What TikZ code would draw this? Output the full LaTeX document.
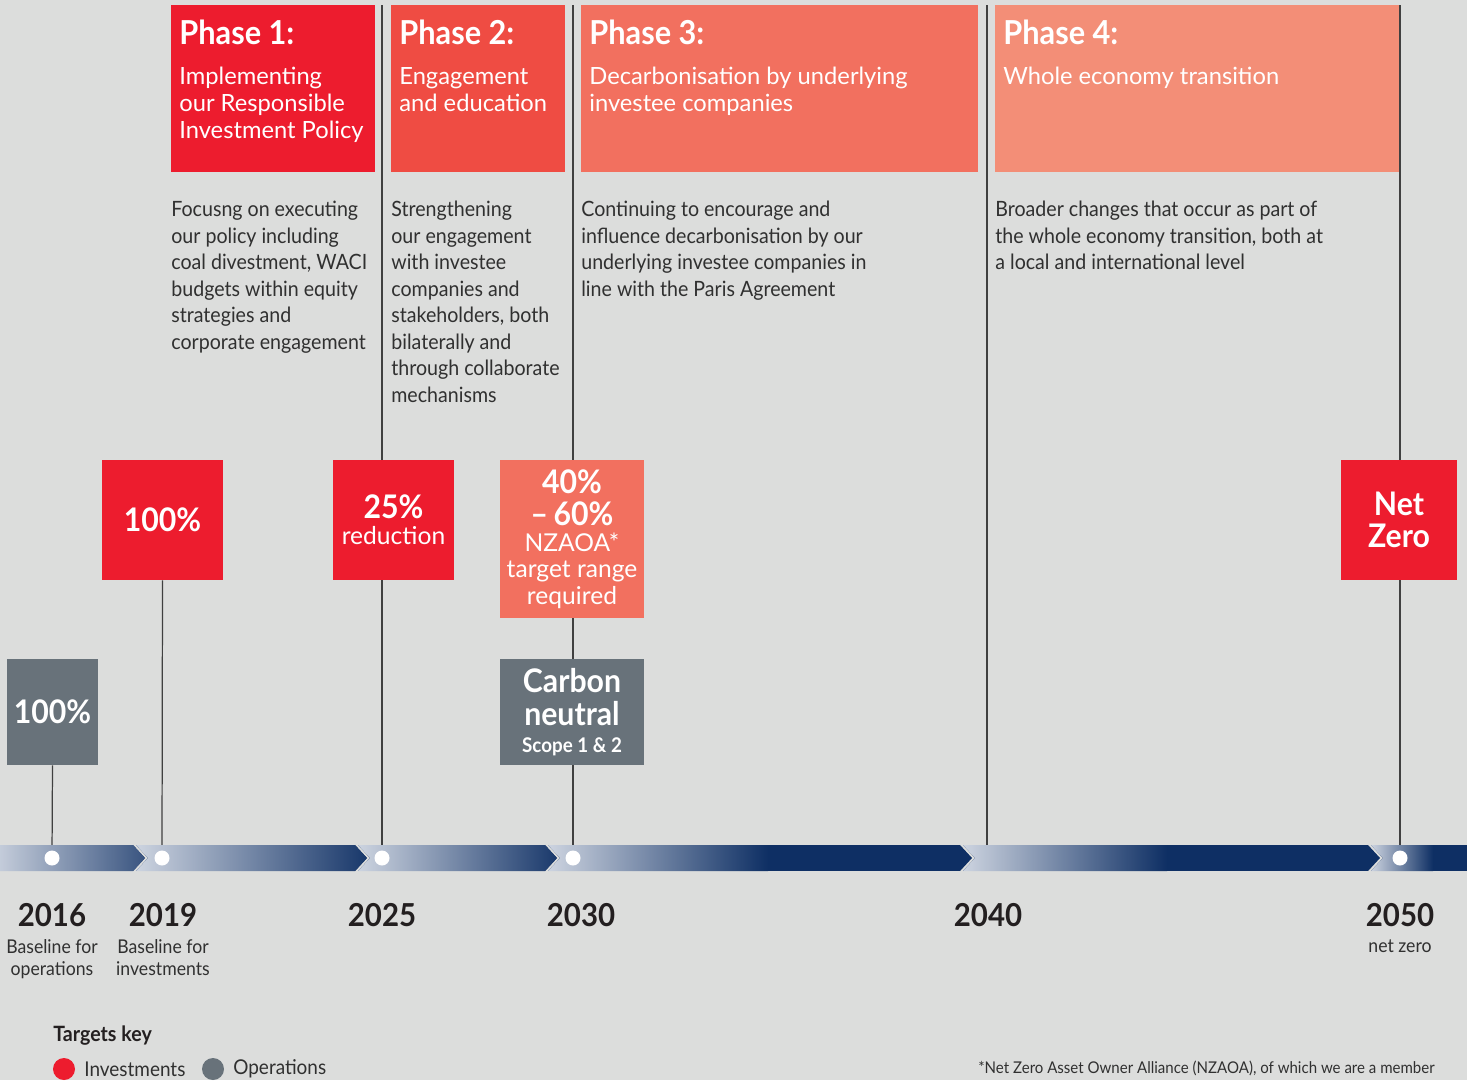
\documentclass[tikz,border=0pt]{standalone}
\usepackage{fontspec}
\setmainfont{Lato}
\newfontfamily\nfont{Lato}[FakeStretch=0.93]
\definecolor{bgc}{HTML}{DCDDDC}
\definecolor{redc}{HTML}{ED1C2E}
\definecolor{ptwo}{HTML}{EF4C43}
\definecolor{pthree}{HTML}{F2705F}
\definecolor{pfour}{HTML}{F38E77}
\definecolor{greyc}{HTML}{68727A}
\definecolor{navyc}{HTML}{0E2F64}
\definecolor{barlight}{HTML}{CDD4E0}
\definecolor{txtc}{HTML}{303030}
\definecolor{yearc}{HTML}{231F20}
\definecolor{linec}{HTML}{404040}
\pgfdeclarelayer{back}
\pgfdeclarelayer{lines}
\pgfsetlayers{back,lines,main}
\newcommand\chevseg[4]{%
  \begin{scope}
    \clip (#1,845) -- (#2,845) -- (#2+12,858) -- (#2,871) -- (#1,871) -- (#1+12,858) -- cycle;
    \fill[navyc] (#1,845) rectangle (#2+12,871);
    \shade[left color=barlight,right color=navyc] (#3,845) rectangle (#4,871);
  \end{scope}}
\tikzset{
  phasebox/.style={anchor=north west, inner sep=0, minimum height=167*0.02cm},
  phtitle/.style={font=\nfont\fontsize{18.8}{22}\selectfont\bfseries, text=white, inner sep=0, anchor=base west},
  phsub/.style={font=\fontsize{13.5}{15.3}\selectfont, text=white, inner sep=0, anchor=north west, align=left},
  bodytxt/.style={font=\nfont\fontsize{12}{15.08}\selectfont, text=txtc, inner sep=0, anchor=north west, align=left},
  tbox/.style={inner sep=0, text=white, align=center},
  yearlbl/.style={font=\nfont\fontsize{18}{20}\selectfont\bfseries, text=yearc, inner sep=0, anchor=base},
  sublbl/.style={font=\nfont\fontsize{10.8}{12.5}\selectfont, text=txtc, inner sep=0, anchor=north, align=center},
  dotnode/.style={circle, fill=white, inner sep=0, minimum size=15*0.02cm},
  vline/.style={draw=linec, line width=0.7pt},
  keydot/.style={circle, inner sep=0, minimum size=22*0.02cm},
}
\begin{document}
\begin{tikzpicture}[x=0.02cm,y=-0.02cm]
\begin{pgfonlayer}{back}
\fill[bgc] (0,0) rectangle (1467,1080);
\end{pgfonlayer}
\useasboundingbox (0,0) rectangle (1467,1080);

% timeline bar
\chevseg{-20}{133}{-10}{190}
\chevseg{136}{355}{136}{380}
\chevseg{358}{545}{358}{570}
\chevseg{548}{960}{548}{768}
\chevseg{963}{1368}{963}{1167}
\chevseg{1371}{1480}{1371}{1433}

\node[dotnode] (d2016) at (52,858) {};
\node[dotnode] (d2019) at (162,858) {};
\node[dotnode] (d2025) at (382,858) {};
\node[dotnode] (d2030) at (573,858) {};
\coordinate (b2040) at (987,858);
\node[dotnode] (d2050) at (1400,858) {};

\coordinate (top2025) at (382,5);
\coordinate (top2030) at (573,5);
\coordinate (top2040) at (987,5);
\coordinate (top2050) at (1400,5);

% phase headers
\node[phasebox, fill=redc, minimum width=204*0.02cm] (ph1) at (171,5) {};
\node[phasebox, fill=ptwo, minimum width=174*0.02cm] (ph2) at (391,5) {};
\node[phasebox, fill=pthree, minimum width=397*0.02cm] (ph3) at (581,5) {};
\node[phasebox, fill=pfour, minimum width=404*0.02cm] (ph4) at (995,5) {};

\node[phtitle] (ph1t) at (179,44) {Phase 1:};
\node[phtitle] (ph2t) at (399,44) {Phase 2:};
\node[phtitle] (ph3t) at (589,44) {Phase 3:};
\node[phtitle] (ph4t) at (1003,44) {Phase 4:};

\node[phsub] (ph1s) at (179,67) {Implementing\\our Responsible\\Investment Policy};
\node[phsub] (ph2s) at (399,67) {Engagement\\and education};
\node[phsub] (ph3s) at (589,67) {Decarbonisation by underlying\\investee companies};
\node[phsub] (ph4s) at (1003,67) {Whole economy transition};

% phase bodies
\node[bodytxt] (ph1b) at (171,201) {Focusng on executing\\our policy including\\coal divestment, WACI\\budgets within equity\\strategies and\\corporate engagement};
\node[bodytxt] (ph2b) at (391,201) {Strengthening\\our engagement\\with investee\\companies and\\stakeholders, both\\bilaterally and\\through collaborate\\mechanisms};
\node[bodytxt] (ph3b) at (581,201) {Continuing to encourage and\\influence decarbonisation by our\\underlying investee companies in\\line with the Paris Agreement};
\node[bodytxt] (ph4b) at (995,201) {Broader changes that occur as part of\\the whole economy transition, both at\\a local and international level};

% target boxes
\node[tbox, fill=greyc, minimum width=91*0.02cm, minimum height=106*0.02cm, font=\nfont\fontsize{18.5}{20}\selectfont\bfseries] (g16) at (52.5,712) {100\%};
\node[tbox, fill=redc, minimum width=121*0.02cm, minimum height=120*0.02cm, font=\nfont\fontsize{18.5}{20}\selectfont\bfseries] (r19) at (162.5,520) {100\%};
\node[tbox, fill=redc, minimum width=121*0.02cm, minimum height=120*0.02cm, font=\fontsize{14}{14.7}\selectfont] (r25) at (393.5,520) {{\nfont\fontsize{18.5}{14.7}\selectfont\bfseries 25\%}\\reduction};
\node[tbox, fill=pthree, minimum width=144*0.02cm, minimum height=158*0.02cm, font=\fontsize{14}{15}\selectfont] (r30) at (572,539) {{\nfont\fontsize{18.5}{15}\selectfont\bfseries 40\%}\\[3.1pt]{\nfont\fontsize{18.5}{15}\selectfont\bfseries –\,60\%}\\NZAOA*\\target range\\required};
\node[tbox, fill=greyc, minimum width=144*0.02cm, minimum height=106*0.02cm, font=\nfont\fontsize{18.5}{15.3}\selectfont\bfseries] (g30) at (572,712) {Carbon\\[3.4pt]neutral\\{\fontsize{11.5}{15.3}\selectfont Scope 1 \& 2}};
\node[tbox, fill=redc, minimum width=116*0.02cm, minimum height=120*0.02cm, font=\nfont\fontsize{18.5}{18.1}\selectfont\bfseries] (r50) at (1399,520) {Net\\Zero};

% years
\node[yearlbl] (y16) at (52,926) {2016};
\node[yearlbl] (y19) at (163,926) {2019};
\node[yearlbl] (y25) at (382,926) {2025};
\node[yearlbl] (y30) at (581,926) {2030};
\node[yearlbl] (y40) at (988,926) {2040};
\node[yearlbl] (y50) at (1400,926) {2050};
\node[sublbl] (s16) at (52,939) {Baseline for\\operations};
\node[sublbl] (s19) at (163,939) {Baseline for\\investments};
\node[sublbl] (s50) at (1400,939) {net zero};

% key
\node[font=\nfont\fontsize{12}{14}\selectfont\bfseries, text=yearc, inner sep=0, anchor=base west] (keyt) at (53,1041) {Targets key};
\node[keydot, fill=redc] (kinv) at (64,1069) {};
\node[font=\nfont\fontsize{11.6}{14}\selectfont, text=txtc, inner sep=0, anchor=west] (kinvt) at (84,1069) {Investments};
\node[keydot, fill=greyc] (kops) at (213,1069) {};
\node[font=\nfont\fontsize{11.6}{14}\selectfont, text=txtc, inner sep=0, anchor=west] (kopst) at (233,1069) {Operations};
\node[font=\nfont\fontsize{9.2}{11}\selectfont, text=txtc, inner sep=0, anchor=base east] (foot) at (1435,1073) {*Net Zero Asset Owner Alliance (NZAOA), of which we are a member};

% connectors
\begin{pgfonlayer}{lines}
\draw[vline] (g16.south) -- (d2016);
\draw[vline] (r19.south) -- (d2019);
\draw[vline] (top2025) -- (d2025);
\draw[vline] (top2030) -- (d2030);
\draw[vline] (top2040) -- (b2040);
\draw[vline] (top2050) -- (d2050);
\end{pgfonlayer}
\end{tikzpicture}
\end{document}
